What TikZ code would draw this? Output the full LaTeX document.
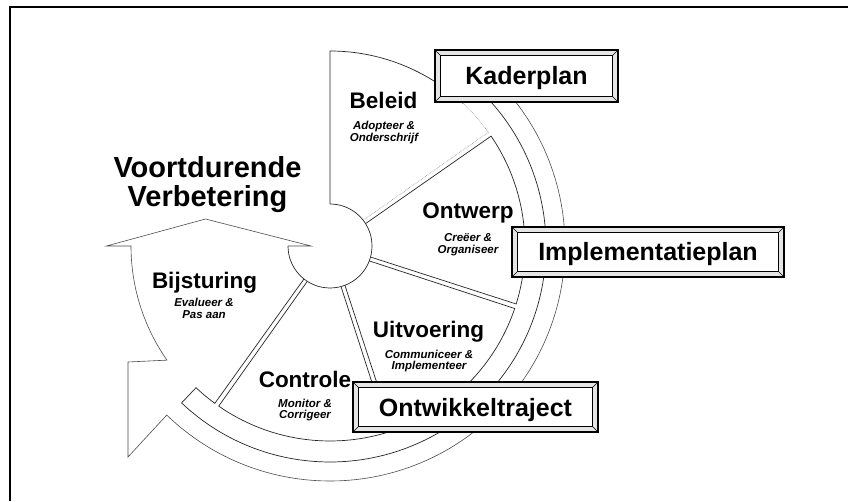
\documentclass[tikz,border=0pt]{standalone}
\usepackage{fontspec}
\setmainfont{Liberation Sans}
\usetikzlibrary{calc}
\begin{document}
\begin{tikzpicture}[x=1pt,y=1pt,
  ln/.style={line width=0.7pt, draw=black!85},
  thinln/.style={line width=0.6pt, draw=black!70},
  faint/.style={line width=0.6pt, draw=black!45, densely dotted},
  frameln/.style={line width=1.4pt, draw=black},
  title/.style={font=\fontsize{29}{30}\selectfont\bfseries, inner sep=0pt, anchor=base},
  seglbl/.style={font=\fontsize{22.5}{24}\selectfont\bfseries, inner sep=0pt, anchor=base},
  sublbl/.style={font=\fontsize{11.5}{10.5}\selectfont\bfseries\itshape, inner sep=0pt, anchor=base},
  bevelbox/.style={font=\fontsize{25}{26}\selectfont\bfseries, draw=black, line width=1.1pt,
     fill=black!10, text height=18pt, text depth=0pt, inner sep=0pt,
     path picture={\fill[white] ($(path picture bounding box.south west)+(6,6)$) rectangle ($(path picture bounding box.north east)+(-6,-6)$);}},
]
\fill[white] (0,0) rectangle (848,501);
\useasboundingbox (0,0) rectangle (848,501);
% frame
\coordinate (FL) at (10,0);
\coordinate (FC) at (10,494);
\coordinate (FR) at (848,494);
\draw[frameln] (FL) -- (FC) -- (FR);

\coordinate (C) at (330,255);

% big arrow + outer ring
\draw[thinln] (288,255) -- (311,255) -- (205.5,282) -- (106.5,255) -- (131,255)
  arc[start angle=180, end angle=215, radius=199] -- (128,139) -- (128,44)
  -- ($(C)+(-134:235)$) arc[start angle=-134, end angle=42, radius=235];

% Bijsturing lower edge + inner ring
\draw[ln] ($(C)+(231.7:42)$) -- ($(C)+(233.8:195)$)
  arc[start angle=233.8, end angle=226.6, radius=195]
  -- ($(C)+(226.6:216)$) arc[start angle=226.6, end angle=405, radius=216];

% hub
\draw[ln] ($(C)+(90:42)$) arc[start angle=90, end angle=-180, radius=42];

% Beleid
\draw[ln] ($(C)+(90:42)$) -- ($(C)+(90:195)$) arc[start angle=90, end angle=47, radius=195];
\draw[faint] ($(C)+(47:195)$) arc[start angle=47, end angle=35.7, radius=195] -- ($(C)+(37.8:42)$);
% Ontwerp
\draw[ln] ($(C)+(32.2:42)$) -- ($(C)+(34.3:195)$) arc[start angle=34.3, end angle=-17.3, radius=195] -- ($(C)+(-15.2:42)$);
% Uitvoering
\draw[ln] ($(C)+(-20.8:42)$) -- ($(C)+(-18.7:195)$) arc[start angle=-18.7, end angle=-71.3, radius=195] -- ($(C)+(-69.2:42)$);
% Controle
\draw[ln] ($(C)+(-74.8:42)$) -- ($(C)+(-72.7:195)$) arc[start angle=-72.7, end angle=-124.8, radius=195] -- ($(C)+(-122.7:42)$);

% boxes
\node[bevelbox, minimum width=183, minimum height=52] (kader) at (526.5,425) {Kaderplan};
\node[bevelbox, minimum width=272, minimum height=50] (impl) at (648,249) {Implementatieplan};
\node[bevelbox, minimum width=245, minimum height=50] (ontw) at (475.5,94) {Ontwikkeltraject};
\foreach \b in {kader,impl,ontw}{
  \draw[line width=1.1pt] ($(\b.south west)+(6,6)$) rectangle ($(\b.north east)+(-6,-6)$);
  \draw[line width=0.5pt] (\b.south west) -- ++(6,6) (\b.north west) -- ++(6,-6)
     (\b.north east) -- ++(-6,-6) (\b.south east) -- ++(-6,6);
}

% titles
\node[title] (t1) at (207.5,323) {Voortdurende};
\node[title] (t2) at (207.5,294) {Verbetering};

% segment labels
\node[seglbl] (beleid) at (383.5,392) {Beleid};
\node[sublbl] (beleid1) at (384,371) {Adopteer \&};
\node[sublbl] (beleid2) at (384,359.5) {Onderschrijf};

\node[seglbl] (ontwerp) at (468,282) {Ontwerp};
\node[sublbl] (ontwerp1) at (468,259) {Creëer \&};
\node[sublbl] (ontwerp2) at (468,247.5) {Organiseer};

\node[seglbl] (uitv) at (428.5,164) {Uitvoering};
\node[sublbl] (uitv1) at (429,143) {Communiceer \&};
\node[sublbl] (uitv2) at (429,131.5) {Implementeer};

\node[seglbl] (bijst) at (204.5,212) {Bijsturing};
\node[sublbl] (bijst1) at (204,194) {Evalueer \&};
\node[sublbl] (bijst2) at (204,182.5) {Pas aan};

\node[seglbl] (contr) at (305,114) {Controle};
\node[sublbl] (contr1) at (305,94) {Monitor \&};
\node[sublbl] (contr2) at (305,82.5) {Corrigeer};
\end{tikzpicture}
\end{document}
